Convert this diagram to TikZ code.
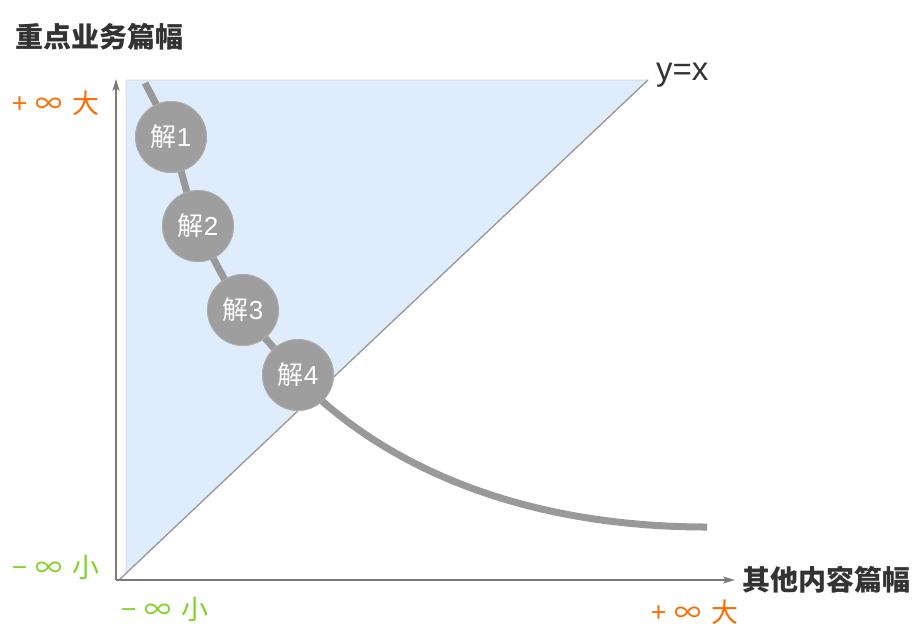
\documentclass[tikz,border=0pt]{standalone}
\usepackage{fontspec}
\setmainfont{Noto Sans CJK SC}
\newfontfamily\latinfont{Liberation Sans}
\usetikzlibrary{arrows.meta}

\definecolor{axisgray}{HTML}{7A7A7A}
\definecolor{curvegray}{HTML}{999999}
\definecolor{dotgray}{HTML}{9E9E9E}
\definecolor{areablue}{HTML}{DFECFC}
\definecolor{areaedge}{HTML}{D3DEEB}
\definecolor{bigorange}{HTML}{FF6A00}
\definecolor{smallgreen}{HTML}{7ED321}
\definecolor{titlegray}{HTML}{333333}

\begin{document}
\begin{tikzpicture}[x=1pt, y=-1pt,
  axis/.style={draw=axisgray, line width=1.8pt, -{Stealth[length=12pt, width=7pt, inset=3pt]}},
  sol/.style={circle, fill=dotgray, draw=dotgray!85!white, line width=0.8pt, minimum size=71pt, inner sep=0pt, text=white, font=\fontsize{26}{26}\selectfont},
  axtitle/.style={text=titlegray, font=\fontsize{28}{28}\selectfont\bfseries, inner sep=0pt},
  bigtag/.style={text=bigorange, font=\fontsize{27}{27}\selectfont, inner sep=0pt},
  smalltag/.style={text=smallgreen, font=\fontsize{27}{27}\selectfont, inner sep=0pt}]
\useasboundingbox (0,0) rectangle (912,627);
\fill[areablue, draw=areaedge, line width=1pt] (126,80) -- (648,80) -- (126,573) -- cycle;
\coordinate (O) at (116,580);
\coordinate (ytop) at (116,79);
\coordinate (xend) at (735,580);
\coordinate (dstart) at (119,580);
\coordinate (dend) at (648,80);
\draw[curvegray, line width=1.3pt] (dstart) -- (dend);
\draw[axis] (O) -- (ytop);
\draw[axis] (O) -- (xend);
\node[sol] (s1) at (171,137) {};
\node[sol] (s2) at (198,226) {};
\node[sol] (s3) at (243,310) {};
\node[sol] (s4) at (298,375) {};
\coordinate (c0) at (145,83);
\coordinate (c5) at (322,401);
\coordinate (cend) at (707,527);
\draw[curvegray, line width=7pt] plot[smooth, tension=0.5] coordinates {(c0) (s1.center) (s2.center) (s3.center) (s4.center) (c5)}
  .. controls (410,478) and (540,527) .. (cend);
\node[sol] at (s1) {解\latinfont 1};
\node[sol] at (s2) {解\latinfont 2};
\node[sol] at (s3) {解\latinfont 3};
\node[sol] at (s4) {解\latinfont 4};
\node[axtitle, anchor=west] (ytitle) at (15,37) {重点业务篇幅};
\node[axtitle, anchor=west] (xtitle) at (742,580) {其他内容篇幅};
\node[text=titlegray, font=\latinfont\fontsize{33}{33}\selectfont, anchor=west, inner sep=0pt] (eqlabel) at (656,75) {y=x};
\node[bigtag, anchor=west] (ybig) at (12,103) {+\hspace{8pt}∞\hspace{10pt}大};
\node[smalltag, anchor=west] (ysmall) at (12,567) {−\hspace{8pt}∞\hspace{10pt}小};
\node[smalltag, anchor=west] (xsmall) at (121,609) {−\hspace{8pt}∞\hspace{10pt}小};
\node[bigtag, anchor=west] (xbig) at (651,612) {+\hspace{8pt}∞\hspace{10pt}大};
\end{tikzpicture}
\end{document}
